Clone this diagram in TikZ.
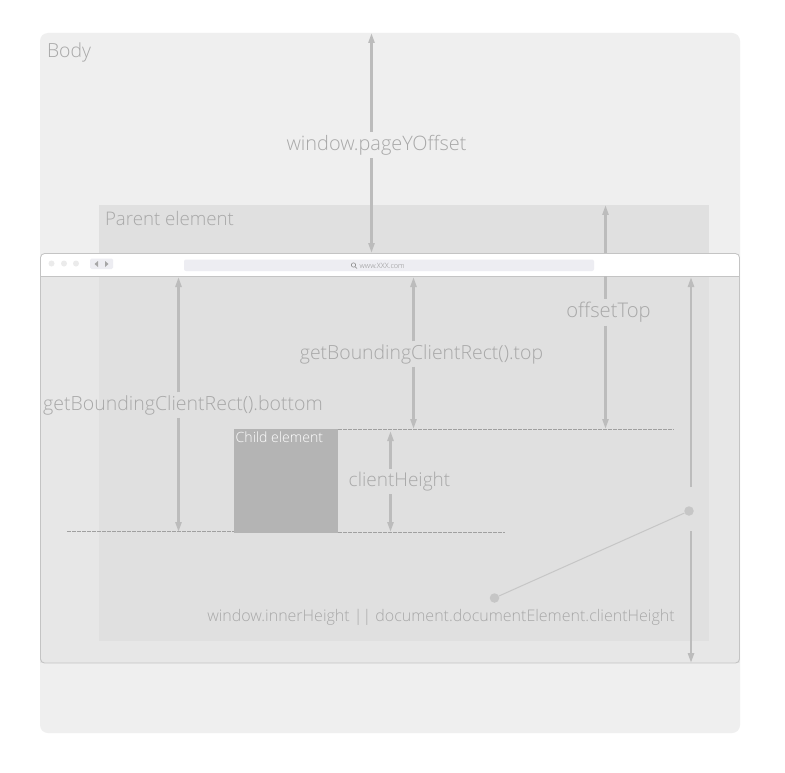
\documentclass[tikz,border=0pt]{standalone}
\usepackage{fontspec}
\setmainfont{Open Sans Light}
\usetikzlibrary{arrows.meta}
\definecolor{bodyc}{HTML}{EFEFEF}
\definecolor{viewc}{HTML}{E7E7E7}
\definecolor{parentc}{HTML}{E0E0E0}
\definecolor{childc}{HTML}{B4B4B4}
\definecolor{framec}{HTML}{C4C4C4}
\definecolor{dotc}{HTML}{C6C6C6}
\definecolor{arrowc}{HTML}{BCBCBC}
\definecolor{textc}{HTML}{A8A8A8}
\definecolor{barc}{HTML}{EDEDF2}
\definecolor{dashc}{HTML}{A0A0A0}
\tikzset{
  x=1pt,y=-1pt,
  lbl/.style={text=textc,font=\fontsize{19}{19}\selectfont,inner sep=0pt,outer sep=3pt},
  arrow/.style={draw=arrowc,line width=2.4pt,-{Triangle[length=10pt,width=6pt]}},
  plainseg/.style={draw=arrowc,line width=2.4pt},
  guide/.style={draw=dashc,line width=.7pt,dash pattern=on 3.5pt off 1.5pt},
  dot/.style={circle,fill=dotc,inner sep=0pt,minimum size=9.5pt},
}
\begin{document}
\begin{tikzpicture}
\useasboundingbox (0,0) rectangle (785,773);
\fill[white] (0,0) rectangle (785,773);
% body
\fill[bodyc,rounded corners=8pt] (40,33) rectangle (740,733);
% browser viewport
\fill[viewc] (40,262) rectangle (740,663);
% parent
\fill[parentc] (99,205) rectangle (709,641);
% toolbar
\fill[white,rounded corners=4pt] (40,253) rectangle (740,276);
\fill[white] (40,268) rectangle (740,276);
\draw[framec,line width=.9pt,rounded corners=4pt] (40.5,253.5) rectangle (739.5,663);
\draw[framec,line width=.9pt] (40.5,276) -- (739.5,276);
% toolbar furniture
\foreach \cx in {51.5,64,76}{\fill[black!8] (\cx,263.5) circle (3pt);}
\fill[barc,rounded corners=1.5pt] (90,258.5) rectangle (113,269);
\fill[gray!70] (98,261) -- (98,267) -- (94.5,264) -- cycle;
\fill[gray!70] (105,261) -- (105,267) -- (108.5,264) -- cycle;
\fill[barc,rounded corners=2pt] (184,259.5) rectangle (594,271);
\draw[gray,line width=.5pt] (353.5,265) circle (2.2pt) (355,266.7) -- (357,268.5);
\node[anchor=west,inner sep=0pt,text=gray!90,font=\fontsize{7.3}{7.3}\selectfont] (url) at (359.5,265.5) {www.XXX.com};
% child
\node[fill=childc,minimum width=104pt,minimum height=104pt,inner sep=0pt,anchor=north west] (child) at (234,429) {};
\node[anchor=west,text=white,font=\fontsize{14.1}{14.1}\selectfont,inner sep=0pt] (childl) at (235.5,437.5) {Child element};
% guides
\coordinate (g1a) at (338,429.5); \coordinate (g1b) at (674,429.5);
\coordinate (g2a) at (67,531.5); \coordinate (g2b) at (234,531.5);
\coordinate (g3a) at (338,532.5); \coordinate (g3b) at (505,532.5);
\draw[guide] (g1a) -- (g1b);
\draw[guide] (g2a) -- (g2b);
\draw[guide] (g3a) -- (g3b);
% static labels
\node[lbl,anchor=west,font=\fontsize{19.4}{19.4}\selectfont] (bodyl) at (44,52) {Body};
\node[lbl,anchor=west,font=\fontsize{18.7}{18.7}\selectfont] (parentl) at (102,218) {Parent element};
% measured labels
\node[lbl,font=\fontsize{19.9}{19.9}\selectfont] (pyo) at (376.5,145) {window.pageYOffset};
\node[lbl,font=\fontsize{20.2}{20.2}\selectfont] (ot) at (608.5,312.5) {offsetTop};
\node[lbl,font=\fontsize{19.4}{19.4}\selectfont] (gt) at (421.5,354) {getBoundingClientRect().top};
\node[lbl,font=\fontsize{19.5}{19.5}\selectfont] (gb) at (183,405) {getBoundingClientRect().bottom};
\node[lbl] (ch) at (399.5,481.5) {clientHeight};
\node[lbl,outer sep=0pt,font=\fontsize{16}{16}\selectfont] (ih) at (441,617) {window.innerHeight || document.documentElement.clientHeight};
% end coordinates
\coordinate (a1) at (371.5,33); \coordinate (a2) at (371.5,253);
\coordinate (b1) at (605.5,205); \coordinate (b2) at (605.5,429);
\coordinate (b3) at (605.5,253);\coordinate (b4) at (605.5,276);
\coordinate (c1) at (413.5,277); \coordinate (c2) at (413.5,429);
\coordinate (d1) at (178.5,277); \coordinate (d2) at (178.5,532);
\coordinate (e1) at (390.5,431); \coordinate (e2) at (390.5,532);
\coordinate (f1) at (691,277); \coordinate (f2) at (691,487);
\coordinate (f3) at (691,531); \coordinate (f4) at (691,663);
% arrows
\draw[arrow] (pyo.north -| a1) -- (a1);
\draw[arrow] (pyo.south -| a2) -- (a2);
\draw[arrow] (b3) -- (b1);
\draw[plainseg] (b4) -- (ot.north -| b4);
\draw[arrow] (ot.south -| b2) -- (b2);
\draw[arrow] (gt.north -| c1) -- (c1);
\draw[arrow] (gt.south -| c2) -- (c2);
\draw[arrow] (gb.north -| d1) -- (d1);
\draw[arrow] (gb.south -| d2) -- (d2);
\draw[arrow] (ch.north -| e1) -- (e1);
\draw[arrow] (ch.south -| e2) -- (e2);
\draw[arrow] (f2) -- (f1);
\draw[arrow] (f3) -- (f4);
% leader
\node[dot] (p1) at (689,511) {};
\node[dot] (p2) at (494.5,598) {};
\draw[dotc,line width=1pt] (p1) -- (p2);
\end{tikzpicture}
\end{document}
